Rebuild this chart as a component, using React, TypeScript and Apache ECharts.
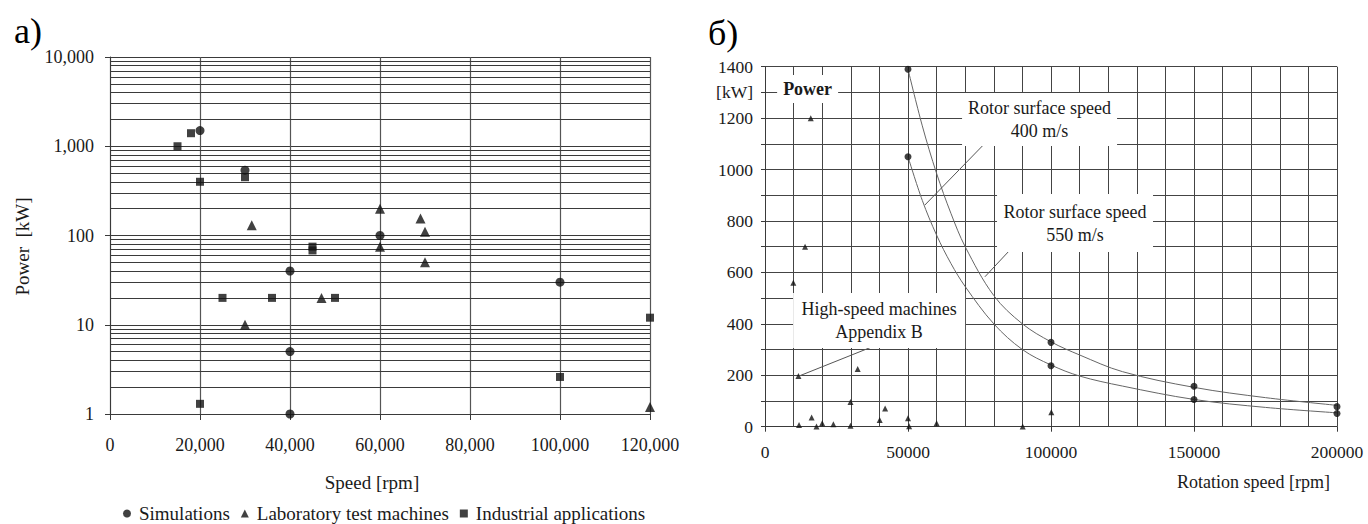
import React, { useEffect, useRef } from 'react';
import * as echarts from 'echarts';

const FONT = 'Liberation Serif, Times New Roman, serif';

// ---------- Chart a) : Power vs speed (log scale) ----------
const leftSimulations: [number, number][] = [
  [20000, 1500], [30000, 540], [40000, 40], [40000, 5], [40000, 1], [60000, 100], [100000, 30],
];
const leftLaboratory: [number, number][] = [
  [31500, 130], [30000, 10], [47000, 20], [60000, 200], [60000, 75], [69000, 155],
  [70000, 110], [70000, 50], [120000, 1.2],
];
const leftIndustrial: [number, number][] = [
  [15000, 1000], [18000, 1400], [20000, 400], [20000, 1.3], [30000, 450], [25000, 20],
  [36000, 20], [45000, 75], [45000, 68], [50000, 20], [100000, 2.6], [120000, 12],
];
const leftDecades = [1, 10, 100, 1000];
const leftMinorMultipliers = [2, 3, 4, 5, 6, 7, 8, 9];

// ---------- Chart б) : Power vs rotation speed ----------
const rightSimulations: [number, number][] = [
  [50000, 1390], [50000, 1050], [100000, 328], [100000, 237],
  [150000, 157], [150000, 106], [200000, 78], [200000, 51],
];
const rightMachines: [number, number][] = [
  [9900, 560], [14000, 700], [16000, 1200], [11700, 197], [11900, 7], [16300, 36],
  [18000, 1], [20000, 13], [23900, 10], [29900, 96], [29900, 4], [32400, 224],
  [40100, 26], [42000, 71], [50000, 33], [50400, 2], [60000, 13], [90100, 1], [100100, 56],
];
const curve550: [number, number][] = [
  [50000, 1390], [55000, 1170], [60000, 985], [65000, 830], [70000, 700], [80000, 510],
  [90000, 400], [100000, 330], [110000, 279], [125000, 214], [150000, 153], [175000, 113], [200000, 83],
];
const curve400: [number, number][] = [
  [50000, 1050], [55000, 880], [60000, 745], [65000, 635], [70000, 545], [80000, 400],
  [90000, 300], [100000, 240], [110000, 197], [125000, 158], [150000, 106], [175000, 75], [200000, 54],
];
const rightAnnotations = [
  { name: 'Rotor surface speed\n400 m/s', coord: [96000, 1195], box: [155, 53] },
  { name: 'Rotor surface speed\n550 m/s', coord: [108400, 792], box: [156, 58] },
  { name: 'High-speed machines\nAppendix B', coord: [39900, 413], box: [172, 55] },
];
const powerLabel = { name: 'Power', coord: [14900, 1313], box: [61, 28] };
const leaderLines: [number, number][][] = [
  [[79700, 1134], [55900, 862]],
  [[90600, 746], [76900, 583]],
  [[38200, 314], [11900, 197]],
];

const GRID = '#3a3a3a';
const TXT = '#1a1a1a';

export default function App() {
  const ref = useRef<HTMLDivElement>(null);
  useEffect(() => {
    if (!ref.current) return;
    const chart = echarts.init(ref.current, undefined, { renderer: 'svg' });
    const minorLines: { yAxis: number }[] = [];
    leftDecades.forEach((d) => leftMinorMultipliers.forEach((m) => minorLines.push({ yAxis: d * m })));

    const markerLabel = { show: true, position: 'inside', formatter: '{b}', color: TXT, fontFamily: FONT, fontSize: 18, lineHeight: 23 };
    const txt = (size: number) => ({ fontFamily: FONT, fontSize: size, color: TXT, fontWeight: 'normal' });

    const option: any = {
      animation: false,
      backgroundColor: '#ffffff',
      textStyle: { fontFamily: FONT, fontWeight: 'normal' },
      title: [
        { text: 'a)', left: 9, top: 8, textStyle: { fontFamily: FONT, fontSize: 36, fontWeight: 'normal', color: '#000' } },
        { text: 'б)', left: 703, top: 10, textStyle: { fontFamily: FONT, fontSize: 36, fontWeight: 'normal', color: '#000' } },
      ],
      legend: {
        data: ['Simulations', 'Laboratory test machines', 'Industrial applications'],
        left: 118, top: 499, itemWidth: 8, itemHeight: 8, itemGap: 11,
        selectedMode: false,
        textStyle: { ...txt(19), padding: [0, 0, 0, 3] },
      },
      grid: [
        { left: 110, top: 57, width: 540, height: 357 },
        { left: 765, top: 66.7, width: 572, height: 360 },
      ],
      xAxis: [
        {
          gridIndex: 0, type: 'value', min: 0, max: 120000, interval: 20000,
          name: 'Speed [rpm]', nameLocation: 'middle', nameGap: 59,
          nameTextStyle: { ...txt(19), padding: [0, 16, 0, 0] },
          axisLine: { show: true, lineStyle: { color: GRID } },
          axisTick: { show: true, length: 6, lineStyle: { color: GRID } },
          axisLabel: { margin: 22, ...txt(18), formatter: (v: number) => v.toLocaleString('en-US') },
          splitLine: { show: true, lineStyle: { color: '#555', width: 1.2 } },
        },
        {
          gridIndex: 1, type: 'value', min: 0, max: 200000, interval: 50000,
          name: 'Rotation speed [rpm]', nameLocation: 'end', nameGap: -7,
          nameTextStyle: { ...txt(18), align: 'right', verticalAlign: 'top', padding: [46, 0, 0, 0] },
          axisLine: { show: true, lineStyle: { color: GRID } },
          axisTick: { show: true, length: 5, lineStyle: { color: GRID } },
          minorTick: { show: false, splitNumber: 5 },
          minorSplitLine: { show: true, lineStyle: { color: '#444', width: 1 } },
          axisLabel: { margin: 16, ...txt(17.5), formatter: (v: number) => String(v) },
          splitLine: { show: true, lineStyle: { color: '#444', width: 1 } },
        },
      ],
      yAxis: [
        {
          gridIndex: 0, type: 'log', logBase: 10, min: 1, max: 10000,
          name: 'Power  [kW]', nameLocation: 'middle', nameGap: 78, nameRotate: 90,
          nameTextStyle: { ...txt(19), padding: [0, 22, 0, 0] },
          axisLine: { show: true, lineStyle: { color: GRID } },
          axisTick: { show: true, length: 5, lineStyle: { color: GRID } },
          axisLabel: { margin: 16, ...txt(18), formatter: (v: number) => v.toLocaleString('en-US') },
          splitLine: { show: true, lineStyle: { color: GRID, width: 1 } },
        },
        {
          gridIndex: 1, type: 'value', min: 0, max: 1400, interval: 100,
          axisLine: { show: true, lineStyle: { color: GRID } },
          axisTick: { show: true, length: 4, lineStyle: { color: GRID } },
          axisLabel: {
            margin: 12, ...txt(17.5),
            formatter: (v: number) => (v % 200 === 0 ? String(v) : v === 1300 ? '[kW]' : ''),
          },
          splitLine: { show: true, lineStyle: { color: '#444', width: 1 } },
        },
      ],
      series: [
        {
          name: 'Simulations', type: 'scatter', xAxisIndex: 0, yAxisIndex: 0, data: leftSimulations,
          symbol: 'circle', symbolSize: 9, itemStyle: { color: '#111' }, z: 5,
        },
        {
          name: 'Laboratory test machines', type: 'scatter', xAxisIndex: 0, yAxisIndex: 0, data: leftLaboratory,
          symbol: 'triangle', symbolSize: 10, itemStyle: { color: '#111' }, z: 5,
        },
        {
          name: 'Industrial applications', type: 'scatter', xAxisIndex: 0, yAxisIndex: 0, data: leftIndustrial,
          symbol: 'rect', symbolSize: 8, itemStyle: { color: '#111' }, z: 5,
          markLine: {
            silent: true, symbol: ['none', 'none'], label: { show: false }, z: 1,
            lineStyle: { color: GRID, width: 1, type: 'solid' },
            data: minorLines,
          },
        },
        {
          name: 'Rotor surface speed 550 m/s', type: 'line', xAxisIndex: 1, yAxisIndex: 1, data: curve550,
          smooth: 0.35, showSymbol: false, lineStyle: { color: '#666', width: 1 }, z: 2,
        },
        {
          name: 'Rotor surface speed 400 m/s', type: 'line', xAxisIndex: 1, yAxisIndex: 1, data: curve400,
          smooth: 0.35, showSymbol: false, lineStyle: { color: '#666', width: 1 }, z: 2,
          markPoint: {
            silent: true, symbol: 'rect', itemStyle: { color: '#ffffff' }, label: markerLabel,
            data: [
              ...rightAnnotations.map((a) => ({ name: a.name, coord: a.coord, symbolSize: a.box })),
              { name: powerLabel.name, coord: powerLabel.coord, symbolSize: powerLabel.box, label: { ...markerLabel, fontWeight: 'bold' } },
            ],
          },
        },
        {
          name: 'Simulation points', type: 'scatter', xAxisIndex: 1, yAxisIndex: 1, data: rightSimulations,
          symbol: 'circle', symbolSize: 7, itemStyle: { color: '#111' }, z: 4,
        },
        {
          name: 'High-speed machines', type: 'scatter', xAxisIndex: 1, yAxisIndex: 1, data: rightMachines,
          symbol: 'triangle', symbolSize: 6, itemStyle: { color: '#111' }, z: 4,
          markLine: {
            silent: true, symbol: ['none', 'none'], label: { show: false },
            lineStyle: { color: '#555', width: 1, type: 'solid' },
            data: leaderLines.map((l) => [{ coord: l[0] }, { coord: l[1] }]),
          },
        },
      ],
    };
    chart.setOption(option);
    return () => chart.dispose();
  }, []);
  return <div ref={ref} style={{ position: 'fixed', left: 0, top: 0, width: 1368, height: 524, background: '#fff' }} />;
}
